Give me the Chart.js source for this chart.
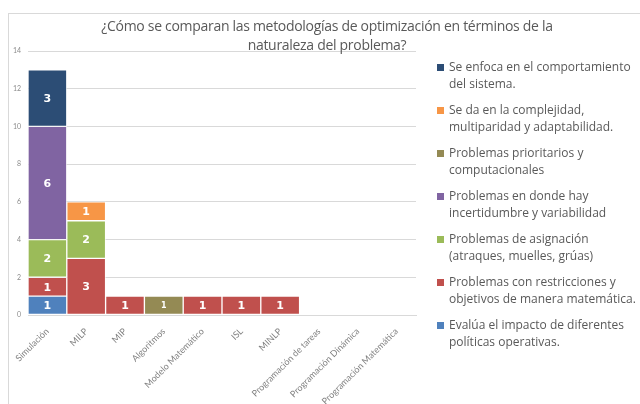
<!DOCTYPE html>
<html>
<head>
<meta charset="utf-8">
<title>Metodologías de optimización</title>
<style>
  body { margin: 0; background: #fff; }
  #wrap { position: relative; width: 640px; height: 404px; overflow: hidden; }
  #frame { position: absolute; left: 8px; top: 13px; right: -2px; bottom: -2px;
           border-left: 1px solid #d9d9d9; border-top: 1px solid #d9d9d9; }
  #chart { position: absolute; left: 0; top: 0; }
  #title { position: absolute; left: 60px; width: 534px; top: 16px; text-align: center;
           font-family: "Open Sans", sans-serif; font-size: 14px; line-height: 19px;
           color: #595959; letter-spacing: -0.3px; }
  #legend { position: absolute; left: 437px; top: 59px; font-family: "Open Sans", sans-serif;
            font-size: 12px; line-height: 16.5px; color: #595959; }
  .item { position: relative; padding-left: 12px; height: 43px; }
  .box { position: absolute; left: 0; top: 5px; width: 7px; height: 7px; }
</style>
</head>
<body>
<div id="wrap">
  <div id="frame"></div>
  <canvas id="chart" width="640" height="404"></canvas>
  <div id="title">¿Cómo se comparan las metodologías de optimización en términos de la<br>naturaleza del problema?</div>
  <div id="legend"></div>
</div>
<script src="https://cdn.jsdelivr.net/npm/chart.js@4.4.0/dist/chart.umd.min.js"></script>
<script>
let categories = ["Simulación", "MILP", "MIP", "Algoritmos", "Modelo Matemático", "ISL", "MINLP",
                  "Programación de tareas", "Programación Dinámica", "Programación Matemática"];

// series, bottom to top of the stack
let evalua       = [1, 0, 0, 0, 0, 0, 0, 0, 0, 0];
let restricciones = [1, 3, 1, 0, 1, 1, 1, 0, 0, 0];
let asignacion   = [2, 2, 0, 0, 0, 0, 0, 0, 0, 0];
let incertidumbre = [6, 0, 0, 0, 0, 0, 0, 0, 0, 0];
let prioritarios = [0, 0, 0, 1, 0, 0, 0, 0, 0, 0];
let complejidad  = [0, 1, 0, 0, 0, 0, 0, 0, 0, 0];
let comportamiento = [3, 0, 0, 0, 0, 0, 0, 0, 0, 0];

let yTicks = [0, 2, 4, 6, 8, 10, 12, 14];

let series = [
    { label: ["Evalúa el impacto de diferentes", "políticas operativas."], data: evalua, color: "#4f81bd" },
    { label: ["Problemas con restricciones y", "objetivos de manera matemática."], data: restricciones, color: "#c0504d" },
    { label: ["Problemas de asignación", "(atraques, muelles, grúas)"], data: asignacion, color: "#9bbb59" },
    { label: ["Problemas en donde hay", "incertidumbre y variabilidad"], data: incertidumbre, color: "#8064a2" },
    { label: ["Problemas prioritarios y", "computacionales"], data: prioritarios, color: "#948a54", small: true },
    { label: ["Se da en la complejidad,", "multiparidad y adaptabilidad."], data: complejidad, color: "#f79646" },
    { label: ["Se enfoca en el comportamiento", "del sistema."], data: comportamiento, color: "#2c4d75" }
];

// white numbers in the middle of each segment
let segmentLabels = {
    id: "segmentLabels",
    afterDatasetsDraw(chart) {
        let ctx = chart.ctx;
        ctx.save();
        ctx.fillStyle = "#ffffff";
        ctx.textAlign = "center";
        ctx.textBaseline = "middle";
        chart.data.datasets.forEach(function(ds, i) {
            let meta = chart.getDatasetMeta(i);
            ctx.font = ds.small ? "bold 8px 'DejaVu Sans'" : "bold 11px 'DejaVu Sans'";
            meta.data.forEach(function(bar, j) {
                let v = ds.data[j];
                if (!v) return;
                ctx.fillText(String(v), bar.x, (bar.y + bar.base) / 2 + 1);
            });
        });
        ctx.restore();
    }
};

let chart = new Chart(document.getElementById("chart"), {
    type: "bar",
    data: {
        labels: categories,
        datasets: series.map(function(s) {
            return {
                label: s.label.join(" "),
                data: s.data,
                backgroundColor: s.color,
                borderColor: "rgba(255,255,255,0.6)",
                borderWidth: 1,
                borderSkipped: false,
                categoryPercentage: 1.0,
                barPercentage: 1.0,
                small: s.small
            };
        })
    },
    options: {
        responsive: false,
        animation: false,
        layout: { padding: { left: 0, top: 51, right: 224, bottom: 0 } },
        plugins: {
            legend: { display: false },
            title: { display: false },
            tooltip: { enabled: false }
        },
        scales: {
            x: {
                stacked: true,
                grid: { display: false },
                border: { color: "#d9d9d9" },
                ticks: {
                    color: "#808080",
                    font: { family: "Lato", size: 9 },
                    maxRotation: 45, minRotation: 45, autoSkip: false, padding: 3
                },
                afterFit: function(scale) { scale.height = 89; }
            },
            y: {
                stacked: true,
                min: 0, max: 14,
                afterBuildTicks: function(scale) { scale.ticks = yTicks.map(function(v) { return { value: v }; }); },
                grid: { color: "#d9d9d9", drawTicks: false },
                border: { display: false },
                ticks: { color: "#8c8c8c", font: { family: "Lato", size: 7 }, padding: 7 },
                afterFit: function(scale) { scale.width = 28; }
            }
        }
    },
    plugins: [segmentLabels]
});

// legend, top item is the last series
let legend = document.getElementById("legend");
series.slice().reverse().forEach(function(s) {
    let item = document.createElement("div");
    item.className = "item";
    let box = document.createElement("span");
    box.className = "box";
    box.style.background = s.color;
    item.appendChild(box);
    item.appendChild(document.createTextNode(s.label[0]));
    item.appendChild(document.createElement("br"));
    item.appendChild(document.createTextNode(s.label[1]));
    legend.appendChild(item);
});
</script>
</body>
</html>
